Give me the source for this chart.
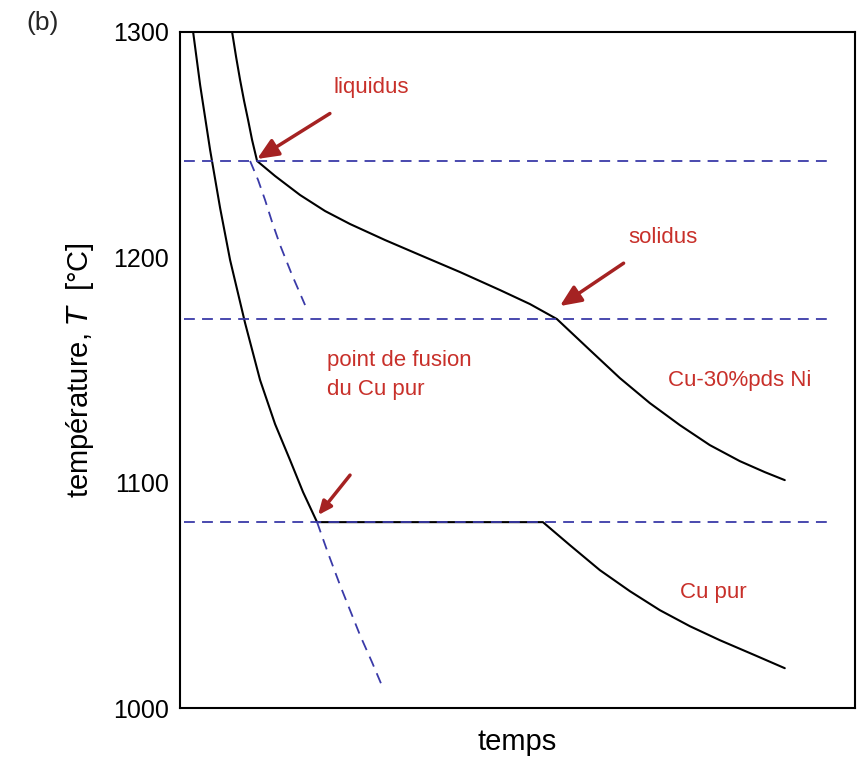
import numpy as np, pandas as pd, matplotlib
matplotlib.use("Agg")
import matplotlib.pyplot as plt, seaborn as sns

sns.set_style("white")
plt.rcParams['font.family'] = ['Liberation Sans', 'DejaVu Sans']

def px(xs): return [(x-180)/675 for x in xs]
def py(ys): return [1300-(y-32)/2.253 for y in ys]

# Cu-30%pds Ni curve (pixel readings converted to data)
alloy_x = px([232,236,240,244,248,252,257,275,300,325,350,385,420,460,500,530,557,590,620,650,680,710,740,765,785])
alloy_T = py([32,57,80,101,120,140,161,176,195,211,224,240,255,272,290,304,319,350,378,403,425,445,461,472,480])
alloy_ext_x = px([250,258,265,272,280,292,305]); alloy_ext_T = py([161,180,200,222,245,275,305])
cu_x = px([193,200,210,220,230,245,260,275,290,303,317,543,570,600,630,660,690,720,755,785])
cu_T = py([32,85,150,208,260,323,380,424,460,492,522,522,545,570,591,610,626,640,655,668])
cu_ext_x = px([317,328,340,350,360,372,383]); cu_ext_T = py([522,553,585,610,635,662,688])
T_liquidus, T_solidus, T_fusion = 1242.7, 1172.6, 1082.5

fig = plt.figure(figsize=(8.66,7.79), dpi=100)
ax = fig.add_axes([0.208,0.091,0.779,0.868])
for x,T in [(alloy_x,alloy_T),(cu_x,cu_T)]:
    sns.lineplot(x=x,y=T,ax=ax,color='black',lw=1.5,sort=False)
for x,T in [(alloy_ext_x,alloy_ext_T),(cu_ext_x,cu_ext_T)]:
    sns.lineplot(x=x,y=T,ax=ax,color='#3a3aa8',lw=1.3,ls=(0,(6,4)),sort=False)
for T in [T_liquidus,T_solidus,T_fusion]:
    ax.axhline(T,color='#3a3aa8',lw=1.3,ls=(0,(6,4)),xmin=0.005,xmax=0.96)
ax.set_xlim(0,1); ax.set_ylim(1000,1300)
ax.set_yticks([1000,1100,1200,1300]); ax.set_xticks([])
ax.tick_params(axis='y',labelsize=18,length=0,pad=8,labelcolor='black')
for s in ax.spines.values(): s.set_linewidth(1.5); s.set_color('black')
ax.set_xlabel('temps',fontsize=21,labelpad=14,color='black')
ax.set_ylabel('température, $T$  [°C]',fontsize=21,labelpad=12,color='black')
fig.text(0.03,0.962,'(b)',fontsize=19)

red='#c8302a'; ar='#a52222'
aprops=dict(arrowstyle='-|>,head_width=0.35,head_length=0.8',color=ar,lw=2.5,shrinkB=0)
def ann(txt,xy,xyt):
    ax.annotate(txt,xy=(px([xy[0]])[0],py([xy[1]])[0]),xytext=(px([xyt[0]])[0],py([xyt[1]])[0]),
                color=red,fontsize=16,ha='left',va='center',arrowprops=dict(aprops,shrinkA=16))
ann('liquidus',(257,159),(333,88))
ann('solidus',(560,306),(628,237))
ax.annotate('',xy=(px([318])[0],py([515])[0]),xytext=(px([350])[0],py([475])[0]),
            arrowprops=dict(aprops,shrinkA=0))
ax.text(px([327])[0],py([375])[0],'point de fusion\ndu Cu pur',color=red,fontsize=16,ha='left',va='center',linespacing=1.5)
ax.text(px([740])[0],py([380])[0],'Cu-30%pds Ni',color=red,fontsize=16,ha='center',va='center')
ax.text(px([713])[0],py([592])[0],'Cu pur',color=red,fontsize=16,ha='center',va='center')
fig.savefig('out.png',dpi=100)
